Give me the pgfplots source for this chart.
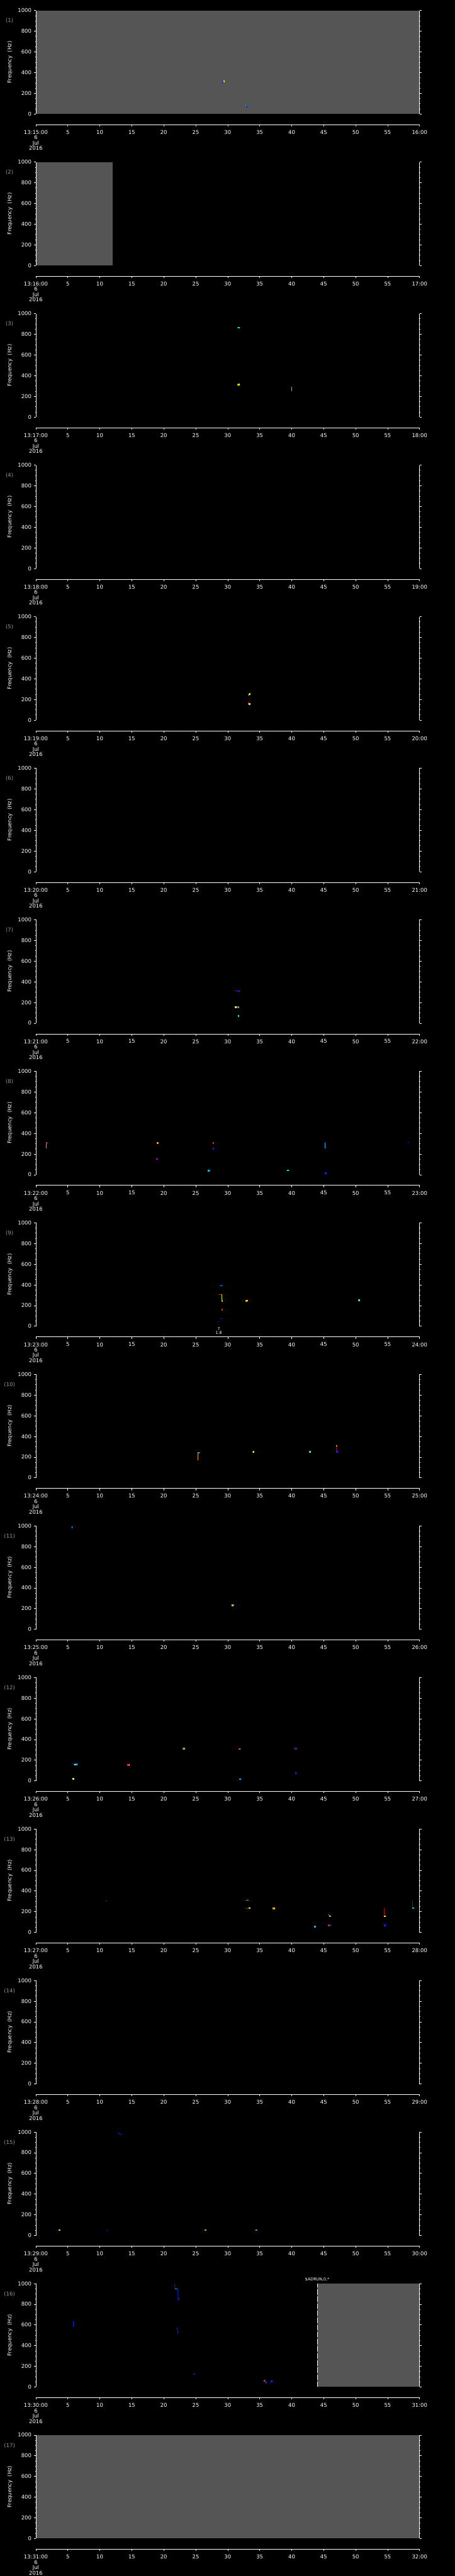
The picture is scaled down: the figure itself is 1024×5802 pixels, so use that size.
\documentclass[border=0pt]{standalone}
\usepackage{pgfplots}
\pgfplotsset{compat=1.18}
\usepackage{fontspec}
\setmainfont{DejaVu Sans}
\definecolor{bgray}{RGB}{85,85,85}
\definecolor{numgray}{RGB}{150,150,150}
\definecolor{cblue}{RGB}{0,40,255}
\definecolor{ccyan}{RGB}{0,190,255}
\definecolor{cgreen}{RGB}{0,255,130}
\definecolor{cyg}{RGB}{180,255,0}
\definecolor{cyellow}{RGB}{255,230,0}
\definecolor{corange}{RGB}{255,150,0}
\definecolor{cred}{RGB}{255,30,0}
\definecolor{cdred}{RGB}{170,0,0}
\pgfplotsset{
  dot/.style={only marks, mark=square*, mark size=1.1pt, color=#1, mark options={draw=none, fill=#1}},
  seg/.style={no marks, line width=1.2pt, color=#1},
  base/.style={
    anchor=north west, width=863.8pt, height=233pt, scale only axis,
    xmin=0, xmax=60, ymin=0, ymax=1000,
    axis x line=bottom, axis y line=box,
    axis on top, clip=false,
    axis line style={white, line width=1pt},
    x axis line style={-, yshift=-24pt},
    tick style={white, line width=1pt},
    tick align=outside, major tick length=4pt, minor tick length=2pt,
    xtick={0,5,...,60},
    xtick style={yshift=-24pt},
    ytick={0,200,...,1000}, minor y tick num=3,
    /pgf/number format/assume math mode=true,
    /pgf/number format/1000 sep={},
    ticklabel style={font=\fontsize{12}{12}\selectfont, text=white},
    xticklabel style={align=center, inner sep=0pt},
    xticklabel shift=32.5pt,
    yticklabel style={inner sep=0pt},
    yticklabel shift=5.7pt,
  }
}
\newcommand\panel[5]{%
\begin{axis}[base, at={(80.7pt,-#1pt)},
  xticklabels={{#3\\6\\Jul\\2016},5,10,15,20,25,30,35,40,45,50,55,#4}]
#5
\node[text=numgray, font=\fontsize{12}{12}\selectfont, anchor=center, xshift=-59.2pt, yshift=-23.3pt] at (rel axis cs:0,1) {(#2)};
\node[text=white, font=\fontsize{12}{12}\selectfont, anchor=center, xshift=-58.2pt, rotate=90] at (rel axis cs:0,0.5) {Frequency\ \ (Hz)};
\end{axis}}
\begin{document}
\begin{tikzpicture}
\fill[black] (0,0) rectangle (1024pt,-5802pt);
% 1
\panel{23.7}{1}{13:15:00}{16:00}{
 \addplot[fill=bgray, draw=none] coordinates {(0,1000) (60,1000)} \closedcycle;
 \addplot[dot=cblue] coordinates {(29.2,312)};
 \addplot[dot=cyellow] coordinates {(29.4,316)};
 \addplot[seg=ccyan] coordinates {(32.85,72) (32.85,88)};
 \addplot[dot=cblue] coordinates {(32.95,72)};
}
% 2
\panel{365.0}{2}{13:16:00}{17:00}{
 \addplot[fill=bgray, draw=none] coordinates {(0,1000) (12,1000)} \closedcycle;
}
% 3
\panel{706.3}{3}{13:17:00}{18:00}{
 \addplot[dot=cred] coordinates {(31.55,865)};
 \addplot[dot=cgreen] coordinates {(31.7,865) (31.6,313)};
 \addplot[dot=cyellow] coordinates {(31.72,315)};
 \addplot[seg=corange] coordinates {(40.0,250) (40.0,291)};
}
% 4
\panel{1047.6}{4}{13:18:00}{19:00}{}
% 5
\panel{1388.9}{5}{13:19:00}{20:00}{
 \addplot[seg=cyellow] coordinates {(33.3,238) (33.3,254)};
 \addplot[dot=cyellow] coordinates {(33.4,254)};
 \addplot[seg=cred] coordinates {(33.25,157) (33.25,170)};
 \addplot[dot=cyellow] coordinates {(33.35,157)};
}
% 6
\panel{1730.2}{6}{13:20:00}{21:00}{}
% 7
\panel{2071.5}{7}{13:21:00}{22:00}{
 \addplot[seg=cdred] coordinates {(31.05,312.6) (31.65,312.6)};
 \addplot[dot=cblue] coordinates {(31.7,313)};
 \addplot[dot=cyellow] coordinates {(31.2,155)};
 \addplot[dot=cred] coordinates {(31.5,155)};
 \addplot[dot=ccyan] coordinates {(31.65,158)};
 \addplot[dot=cgreen] coordinates {(31.65,72)};
}
% 8
\panel{2412.8}{8}{13:22:00}{23:00}{
 \addplot[seg=cgreen] coordinates {(1.66,256) (1.66,307)};
 \addplot[dot=cred] coordinates {(1.66,307) (27.7,307) (18.85,154)};
 \addplot[dot=corange] coordinates {(19.0,307)};
 \addplot[dot=cblue] coordinates {(27.7,255) (18.95,156) (27.1,41) (45.26,16)};
 \addplot[dot=ccyan] coordinates {(26.95,41)};
 \addplot[dot=cgreen] coordinates {(39.36,45)};
 \addplot[seg=ccyan] coordinates {(45.2,253) (45.2,307)};
 \addplot[seg=cblue] coordinates {(58.2,307) (58.25,318)};
}
% 9
\panel{2754.1}{9}{13:23:00}{24:00}{
 \addplot[seg=ccyan] coordinates {(28.8,394) (29.0,394)};
 \addplot[dot=cblue] coordinates {(29.1,396)};
 \addplot[seg=cred] coordinates {(28.6,308) (29.0,308)};
 \addplot[seg=cyg] coordinates {(29.05,246) (29.05,308)};
 \addplot[dot=corange] coordinates {(29.1,246) (32.9,246)};
 \addplot[dot=cyellow] coordinates {(33.0,250) (50.55,254)};
 \addplot[dot=cgreen] coordinates {(50.45,254)};
 \addplot[dot=cred] coordinates {(29.1,162)};
 \addplot[seg=cblue] coordinates {(28.85,75) (29.15,75)};
 \addplot[seg=cblue] coordinates {(28.5,48) (28.65,40)};
 \node[text=white, font=\fontsize{9}{9}\selectfont, yshift=-6pt] at (axis cs:28.6,0) {7};
 \node[text=white, font=\fontsize{9}{9}\selectfont, yshift=-15.4pt] at (axis cs:28.6,0) {1.8};
}
% 10
\panel{3095.4}{10}{13:24:00}{25:00}{
 \addplot[seg=corange] coordinates {(25.3,169) (25.3,244)};
 \addplot[dot=ccyan] coordinates {(25.4,244) (33.9,250)};
 \addplot[dot=cyellow] coordinates {(34.0,252) (42.85,253)};
 \addplot[dot=cgreen] coordinates {(42.75,253)};
 \addplot[seg=cdred] coordinates {(47.0,252) (47.0,312)};
 \addplot[dot=corange] coordinates {(47.0,312)};
 \addplot[dot=cblue] coordinates {(47.05,252)};
}
% 11
\panel{3436.7}{11}{13:25:00}{26:00}{
 \addplot[seg=ccyan] coordinates {(5.65,975) (5.65,995)};
 \addplot[dot=cyellow] coordinates {(30.7,236)};
 \addplot[dot=ccyan] coordinates {(30.8,238)};
}
% 12
\panel{3778.0}{12}{13:26:00}{27:00}{
 \addplot[dot=cblue] coordinates {(5.9,164) (40.7,312) (40.6,75)};
 \addplot[dot=cyellow] coordinates {(6.1,158) (14.55,156) (31.85,311) (5.8,22)};
 \addplot[dot=ccyan] coordinates {(6.3,160) (31.9,19)};
 \addplot[dot=cred] coordinates {(14.4,156) (23.0,312) (31.75,310)};
 \addplot[dot=cgreen] coordinates {(23.15,312)};
 \addplot[dot=cdred] coordinates {(40.5,312)};
}
% 13
\panel{4119.3}{13}{13:27:00}{28:00}{
 \addplot[seg=cdred] coordinates {(10.9,297) (11.0,310)};
 \addplot[seg=ccyan] coordinates {(32.9,310) (33.3,310)};
 \addplot[seg=cred] coordinates {(32.9,235) (33.2,235)};
 \addplot[dot=cyellow] coordinates {(33.35,237) (37.25,235) (54.55,157)};
 \addplot[dot=corange] coordinates {(37.1,235) (45.95,157)};
 \addplot[dot=ccyan] coordinates {(43.6,57) (58.95,237)};
 \addplot[dot=cred] coordinates {(45.75,70)};
 \addplot[dot=cblue] coordinates {(45.95,70) (54.5,70)};
 \addplot[seg=cgreen] coordinates {(45.8,172) (45.9,162)};
 \addplot[seg=cdred] coordinates {(54.5,160) (54.5,234)};
 \addplot[seg=cdred] coordinates {(58.9,240) (58.9,310)};
}
% 14
\panel{4460.6}{14}{13:28:00}{29:00}{}
% 15
\panel{4801.9}{15}{13:29:00}{30:00}{
 \addplot[seg=cblue] coordinates {(12.9,996) (13.0,982) (13.4,974)};
 \addplot[dot=cgreen] coordinates {(3.6,55)};
 \addplot[dot=cyellow] coordinates {(3.7,55)};
 \addplot[seg=cblue] coordinates {(11.1,55) (11.3,43)};
 \addplot[dot=corange] coordinates {(26.5,55) (34.45,55)};
 \addplot[dot=cblue] coordinates {(34.6,55)};
}
% 16
\panel{5143.2}{16}{13:30:00}{31:00}{
 \addplot[fill=bgray, draw=none] coordinates {(44,1000) (60,1000)} \closedcycle;
 \addplot[no marks, white, line width=1pt, dash pattern=on 12pt off 4pt] coordinates {(44,0) (44,1000)};
 \node[text=white, font=\fontsize{9}{9}\selectfont, anchor=south, yshift=1pt] at (axis cs:44,1000) {\$ADRUN,0,*};
 \addplot[seg=cblue] coordinates {(5.87,578) (5.87,636)};
 \addplot[seg=cblue] coordinates {(21.7,997) (21.75,950)};
 \addplot[seg=ccyan] coordinates {(21.75,948) (22.15,946)};
 \addplot[seg=cblue] coordinates {(22.2,946) (22.25,839) (22.4,862)};
 \addplot[seg=cblue] coordinates {(22.0,575) (22.1,560) (22.2,517)};
 \addplot[dot=cblue] coordinates {(24.75,126) (35.9,50) (36.0,41) (36.8,55)};
 \addplot[dot=cred] coordinates {(35.7,61)};
}
% 17
\panel{5484.5}{17}{13:31:00}{32:00}{
 \addplot[fill=bgray, draw=none] coordinates {(0,1000) (60,1000)} \closedcycle;
}
\pgfresetboundingbox
\useasboundingbox (0,0) rectangle (1024pt,-5802pt);
\end{tikzpicture}
\end{document}
